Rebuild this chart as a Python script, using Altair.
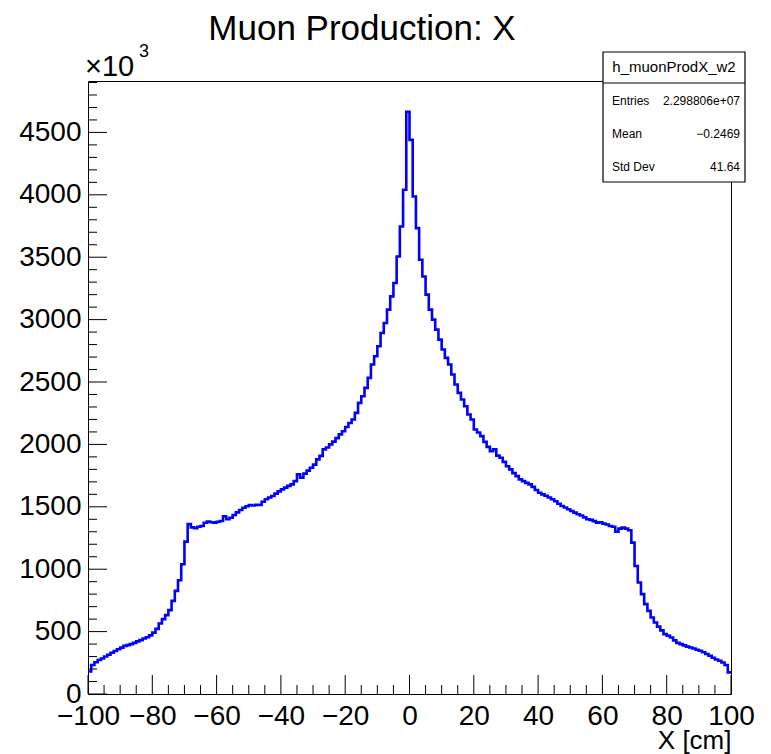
import altair as alt
import pandas as pd

# ---- histogram definition -------------------------------------------------
TITLE = "Muon Production: X"
X_TITLE = "X [cm]"
HIST_NAME = "h_muonProdX_w2"
X_MIN, X_MAX, BIN_WIDTH = -100, 100, 1
Y_MAX = 4912  # upper edge of the y range, in units of 10^3

# bin contents (x10^3) for the 1 cm bins from -100 to 0
counts_neg = [
    180, 232, 255, 272, 285, 300, 314, 330, 345, 358,
    372, 386, 392, 400, 410, 422, 432, 445, 455, 470,
    492, 522, 565, 600, 632, 672, 746, 826, 912, 1040,
    1221, 1362, 1335, 1328, 1340, 1346, 1372, 1381, 1376, 1373,
    1380, 1386, 1424, 1400, 1412, 1434, 1455, 1474, 1493, 1505,
    1514, 1510, 1516, 1514, 1540, 1560, 1574, 1586, 1606, 1624,
    1640, 1654, 1668, 1680, 1706, 1760, 1733, 1766, 1790, 1813,
    1838, 1880, 1908, 1960, 1975, 2000, 2022, 2050, 2080, 2105,
    2140, 2172, 2200, 2253, 2333, 2386, 2453, 2533, 2640, 2706,
    2786, 2893, 2973, 3080, 3186, 3293, 3506, 3746, 4040, 4666,
]
# bin contents (x10^3) for the 1 cm bins from 0 to 100
counts_pos = [
    4440, 3986, 3733, 3480, 3346, 3200, 3080, 3000, 2920, 2840,
    2760, 2693, 2640, 2560, 2480, 2413, 2360, 2306, 2240, 2200,
    2120, 2095, 2066, 2020, 1980, 1946, 1960, 1910, 1893, 1860,
    1825, 1800, 1770, 1746, 1720, 1706, 1692, 1680, 1660, 1635,
    1613, 1600, 1588, 1575, 1560, 1545, 1525, 1506, 1495, 1480,
    1466, 1453, 1440, 1430, 1415, 1400, 1395, 1385, 1373, 1376,
    1365, 1358, 1346, 1340, 1301, 1325, 1333, 1325, 1312, 1213,
    1026, 893, 800, 720, 666, 613, 573, 540, 510, 480,
    468, 453, 430, 410, 400, 390, 380, 373, 365, 355,
    346, 335, 320, 306, 290, 276, 266, 252, 232, 173,
]
counts = counts_neg + counts_pos

# statistics box
stat_labels = ["Entries", "Mean", "Std Dev"]
stat_values = ["2.298806e+07", "\u22120.2469", "41.64"]

# axis tick positions
x_labels = list(range(-100, 101, 20))
x_minor = [v for v in range(-100, 101, 5) if v % 20]
y_labels = list(range(0, 4501, 500))
y_minor = [v for v in range(0, Y_MAX, 100) if v % 500]

# ---- layout (pixels) ------------------------------------------------------
W, H = 643, 613
PAD = {"left": 88, "top": 81, "right": 40, "bottom": 60}
FONT = "Liberation Sans"
MAJOR_LEN, MINOR_LEN = 19, 9
LINE_BLUE = "#0000ff"

edges = [X_MIN + i * BIN_WIDTH for i in range(len(counts))] + [X_MAX]
hist = pd.DataFrame({"x": edges, "n": counts + [counts[-1]]})

x_scale = alt.Scale(domain=[X_MIN, X_MAX], nice=False, zero=False)
y_scale = alt.Scale(domain=[0, Y_MAX], nice=False, zero=True)

x_axis = alt.Axis(
    values=x_labels, title=X_TITLE, format="d", grid=False, ticks=False,
    tickSize=0, domain=False, labelFontSize=28, labelPadding=8,
    labelColor="black", labelFont=FONT, labelFlush=False, labelOverlap=False,
    titleFont=FONT, titleFontSize=26, titleFontWeight="normal",
    titleColor="black", titleAnchor="end", titleAlign="right",
    titleBaseline="alphabetic", titleY=54,
)
y_axis = alt.Axis(
    values=y_labels, title=None, format="d", grid=False, ticks=False,
    tickSize=0, domain=False, labelFontSize=28, labelPadding=7,
    labelColor="black", labelFont=FONT, labelFlush=False, labelOverlap=False,
)

line = alt.Chart(hist).mark_line(
    interpolate="step-after", color=LINE_BLUE, strokeWidth=2.6
).encode(
    x=alt.X("x:Q", scale=x_scale, axis=x_axis),
    y=alt.Y("n:Q", scale=y_scale, axis=y_axis),
)


def y_ticks(values, length):
    df = pd.DataFrame({"n": values})
    return alt.Chart(df).mark_rule(color="black", strokeWidth=1).encode(
        y=alt.Y("n:Q", scale=y_scale, axis=y_axis),
        x=alt.value(0),
        x2=alt.value(length),
    )


def x_ticks(values, length):
    df = pd.DataFrame({"x": values})
    return alt.Chart(df).mark_rule(color="black", strokeWidth=1).encode(
        x=alt.X("x:Q", scale=x_scale, axis=x_axis),
        y=alt.value(H),
        y2=alt.value(H - length),
    )


one = pd.DataFrame({"k": [0]})


def label(text, x, y, size, align="left", baseline="alphabetic"):
    return alt.Chart(one).mark_text(
        text=text, font=FONT, fontSize=size, align=align,
        baseline=baseline, color="black",
    ).encode(x=alt.value(x), y=alt.value(y))


# statistics box (drawn over the frame's top-right corner)
BX0, BX1, BY0, BY1, BSEP = 515, 657, -29, 101, 2
box = alt.Chart(one).mark_rect(
    fill="white", stroke="black", strokeWidth=1.2
).encode(x=alt.value(BX0), x2=alt.value(BX1), y=alt.value(BY0), y2=alt.value(BY1))
sep = alt.Chart(one).mark_rule(color="black", strokeWidth=1.2).encode(
    x=alt.value(BX0), x2=alt.value(BX1), y=alt.value(BSEP)
)
stat_layers = [label(HIST_NAME, (BX0 + BX1) / 2, -14, 15, "center", "middle")]
for i, (lab, val) in enumerate(zip(stat_labels, stat_values)):
    ry = 20 + 33 * i
    stat_layers.append(label(lab, 524, ry, 12, "left", "middle"))
    stat_layers.append(label(val, 652, ry, 12, "right", "middle"))

title = label(TITLE, 274, -41, 35, "center")
exp_base = label("\u00d710", -3, -5, 29)
exp_pow = label("3", 51, -24, 18)

chart = alt.layer(
    line,
    y_ticks(y_labels, MAJOR_LEN), y_ticks(y_minor, MINOR_LEN),
    x_ticks(x_labels, MAJOR_LEN), x_ticks(x_minor, MINOR_LEN),
    box, sep, *stat_layers, title, exp_base, exp_pow,
).properties(
    width=W, height=H,
    autosize=alt.AutoSizeParams(type="none"),
    padding=PAD,
).configure(font=FONT, background="white").configure_view(
    stroke="black", strokeWidth=1
)

chart.save("out.html", embed_options={"renderer": "svg", "actions": False})
